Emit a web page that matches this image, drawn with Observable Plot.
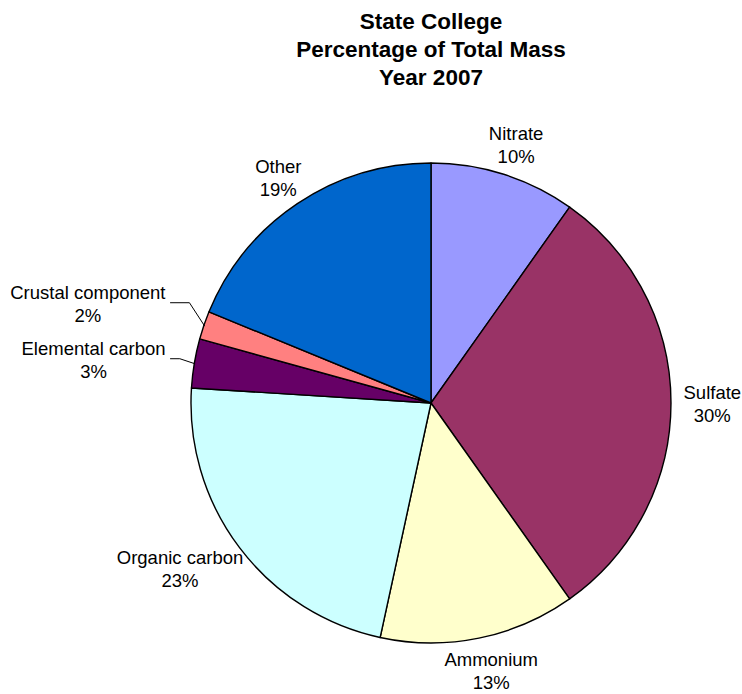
<!DOCTYPE html>
<html><head><meta charset="utf-8">
<script src="https://cdn.jsdelivr.net/npm/d3@7"></script>
<script src="https://cdn.jsdelivr.net/npm/@observablehq/plot@0.6"></script>
<style>
body{margin:0;background:#fff;}
#title{width:742px;box-sizing:border-box;padding:8px 0 0 120px;text-align:center;font:bold 22.5px "Liberation Sans",Arial,sans-serif;line-height:28px;height:91px;color:#000;}
</style></head><body>
<div id="title"></div>
<div id="chart"></div>
<script>
const titleLines = ["State College", "Percentage of Total Mass", "Year 2007"];
const categories = ["Nitrate", "Sulfate", "Ammonium", "Organic carbon", "Elemental carbon", "Crustal component", "Other"];
const values = [9.8, 30.4, 13.2, 22.6, 3.3, 1.9, 18.8];
const colors = ["#9999FF", "#993366", "#FFFFCC", "#CCFFFF", "#660066", "#FF8080", "#0066CC"];

document.getElementById("title").innerHTML = titleLines.join("<br>");

const W = 742, H = 603, CX = 431, CY = 312, R = 240;
const FONT = '"Liberation Sans", Arial, sans-serif';
const FS = 18.5, LH = 23, GAP = 12;

const rows = categories.map((c, i) => ({category: c, value: values[i], color: colors[i]}));
const total = d3.sum(values);
const arcs = d3.pie().sort(null).value(d => d.value)(rows);

const ctx = document.createElement("canvas").getContext("2d");
ctx.font = `${FS}px ${FONT}`;

const labels = [];
const leaders = [];
let prevY = Infinity;
arcs.forEach((a, i) => {
  const t = (a.startAngle + a.endAngle) / 2;
  const s = Math.sin(t), c = Math.cos(t);
  const pct = Math.round(a.data.value / total * 100) + "%";
  const lines = [a.data.category, pct];
  const w = d3.max(lines, l => ctx.measureText(l).width);
  if (a.data.value / total >= 0.05) {
    const ax = CX + (R + GAP) * s, ay = CY - (R + GAP) * c;
    labels.push({x: ax + w / 2 * s, y: ay - LH * 0.88 * c, text: lines.join("\n")});
  } else {
    const ex = CX + R * s, ey = CY - R * c;
    const right = CX - R - 26;
    const ly = Math.min(ey - 5, prevY - 56);
    prevY = ly;
    labels.push({x: right - w / 2, y: ly, text: lines.join("\n")});
    const ex0 = right + 5;
    const elbow = Math.max(ex0, ex - 15);
    leaders.push({k: i, x: ex0, y: ly}, {k: i, x: elbow, y: ly}, {k: i, x: ex, y: ey});
  }
});

const pieMark = (index, scales) => {
  const g = d3.create("svg:g");
  const cx = scales.x(CX), cy = scales.y(CY);
  const r = scales.x(CX + R) - scales.x(CX);
  const arc = d3.arc().innerRadius(0).outerRadius(r);
  g.attr("transform", `translate(${cx},${cy})`);
  g.selectAll("path").data(arcs).join("path")
    .attr("d", arc)
    .attr("fill", d => d.data.color)
    .attr("stroke", "#000")
    .attr("stroke-width", 1.4)
    .attr("stroke-linejoin", "round");
  return g.node();
};

const chart = Plot.plot({
  width: W, height: H,
  margin: 0,
  style: {background: "#fff", fontFamily: FONT},
  x: {domain: [0, W], range: [0, W], axis: null},
  y: {domain: [0, H], range: [0, H], axis: null},
  marks: [
    pieMark,
    Plot.line(leaders, {x: "x", y: "y", z: "k", stroke: "#000", strokeWidth: 1}),
    Plot.text(labels, {x: "x", y: "y", text: "text", fontSize: FS, lineHeight: LH / FS, fill: "#000", textAnchor: "middle"})
  ]
});
document.getElementById("chart").appendChild(chart);
</script>
</body></html>
